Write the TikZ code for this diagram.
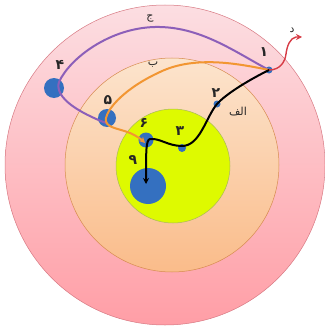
\documentclass[tikz,border=0pt]{standalone}
\usepackage{fontspec}
\TeXXeTstate=1
\newfontfamily\arabicfont[Script=Arabic]{DejaVu Sans}
\usetikzlibrary{arrows.meta}
\definecolor{pinkA}{RGB}{252,222,226}
\definecolor{pinkB}{RGB}{255,158,166}
\definecolor{pinkEdge}{RGB}{215,120,130}
\definecolor{peachA}{RGB}{252,228,205}
\definecolor{peachB}{RGB}{250,188,138}
\definecolor{peachEdge}{RGB}{215,140,80}
\definecolor{yel}{RGB}{222,250,0}
\definecolor{yelEdge}{RGB}{170,185,90}
\definecolor{dotblue}{RGB}{52,112,192}
\definecolor{purp}{RGB}{140,95,185}
\definecolor{orng}{RGB}{242,150,50}
\definecolor{redc}{RGB}{215,60,70}
\tikzset{
  bluedot/.style={circle,fill=dotblue,inner sep=0pt,draw=none},
  lab/.style={font=\arabicfont\bfseries\fontsize{14}{16}\selectfont,inner sep=0pt,text=black!85},
  smalllab/.style={font=\arabicfont\fontsize{11}{13}\selectfont,inner sep=0pt,text=black!85},
  pathline/.style={line width=2pt,line cap=round},
  tip/.style={-{Stealth[length=6pt,width=6pt]}}
}
\begin{document}
\begin{tikzpicture}[x=1pt,y=-1pt]
\useasboundingbox (0,0) rectangle (324,329);
\shade[top color=pinkA,bottom color=pinkB,draw=pinkEdge,line width=0.5pt] (165,165) circle[radius=160pt];
\shade[top color=peachA,bottom color=peachB,draw=peachEdge,line width=0.5pt] (172,165) circle[radius=107pt];
\fill[yel,draw=yelEdge,line width=0.5pt] (173,166) circle[radius=57pt];
% dots
\node[bluedot,minimum size=36pt] (n9) at (148,186) {};
\node[bluedot,minimum size=15pt] (n6) at (146,140) {};
\node[bluedot,minimum size=8pt] (n3) at (182,148) {};
\node[bluedot,minimum size=7pt] (n2) at (217,104) {};
\node[bluedot,minimum size=7pt] (n1) at (269,70) {};
\node[bluedot,minimum size=18pt] (n5) at (107,118) {};
\node[bluedot,minimum size=20pt] (n4) at (54,88) {};
\coordinate (d) at (302,37);
% paths
\draw[pathline,purp] (n1.center) .. controls (235,52) and (200,26) .. (155,27)
  .. controls (110,28) and (70,58) .. (59,82)
  .. controls (54,98) and (80,113) .. (106,123);
\draw[pathline,orng,tip] (n1.center) .. controls (240,64) and (195,55) .. (160,72)
  .. controls (125,88) and (108,108) .. (106,118)
  .. controls (104,128) and (118,128) .. (130,133)
  .. controls (137,136) and (142,140) .. (145,143);
\draw[pathline,black,tip] (n1.center) .. controls (245,82) and (225,95) .. (n2.center)
  .. controls (206,117) and (200,146) .. (182,146)
  .. controls (168,146) and (160,138) .. (150,139)
  .. controls (146,140) and (146,150) .. (146,184);
\draw[line width=1.4pt,redc,tip] (n1.center) .. controls (280,70) and (285,62) .. (286,54)
  .. controls (287,46) and (290,38) .. (296,37) -- (d);
% labels
\node[lab] (l1) at (264,52) {\beginR ۱\endR};
\node[lab] (l2) at (216,93) {\beginR ۲\endR};
\node[lab] (l3) at (180,131) {\beginR ۳\endR};
\node[lab] (l4) at (60,65) {\beginR ۴\endR};
\node[lab] (l5) at (108,100) {\beginR ۵\endR};
\node[lab] (l6) at (144,123) {\beginR ۶\endR};
\node[lab] (l9) at (133,160) {\beginR ۹\endR};
\node[smalllab] (la) at (238,112) {\beginR الف\endR};
\node[smalllab] (lb) at (153,65) {\beginR ب\endR};
\node[smalllab] (lj) at (150,19) {\beginR ج\endR};
\node[smalllab] (ld) at (292,30) {\beginR د\endR};
\end{tikzpicture}
\end{document}
